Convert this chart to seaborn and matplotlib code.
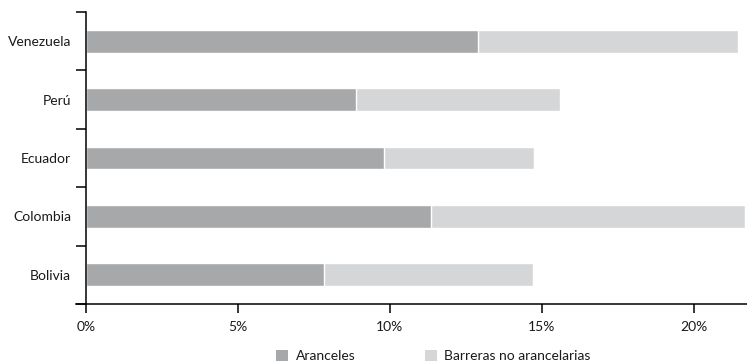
import numpy as np
import pandas as pd
import matplotlib
matplotlib.use("Agg")
import matplotlib.pyplot as plt
from matplotlib.patches import Patch
from matplotlib.ticker import FixedLocator, FuncFormatter
import seaborn as sns

# Equivalente arancelario por país (% del valor)
paises = ["Venezuela", "Perú", "Ecuador", "Colombia", "Bolivia"]
aranceles = [12.9, 8.9, 9.8, 11.35, 7.85]
barreras_no_arancelarias = [8.55, 6.7, 4.95, 10.35, 6.85]
xticks = [0, 5, 10, 15, 20]

c_aranceles = "#a7a8aa"
c_barreras = "#d5d6d8"

df = pd.DataFrame({
    "pais": paises,
    "aranceles": aranceles,
    "total": np.add(aranceles, barreras_no_arancelarias),
})

sns.set_style("white")
plt.rcParams["font.family"] = ["Lato", "DejaVu Sans"]

fig = plt.figure(figsize=(7.47, 3.64), dpi=100)
ax = fig.add_axes([76 / 747, 60 / 364, 671 / 747, 292 / 364])

# Barra total (clara) y, encima, la parte arancelaria (oscura)
sns.barplot(data=df, x="total", y="pais", order=paises, orient="h",
            color=c_barreras, saturation=1, width=0.39, ax=ax)
sns.barplot(data=df, x="aranceles", y="pais", order=paises, orient="h",
            color=c_aranceles, saturation=1, width=0.39, ax=ax)

ax.set_xlim(-0.32, 21.75)
ax.set_ylim(4.5, -0.5)
ax.set_xlabel("")
ax.set_ylabel("")

for s in ["top", "right"]:
    ax.spines[s].set_visible(False)
ax.spines["left"].set_position(("data", 0))
for s in ["left", "bottom"]:
    ax.spines[s].set_color("black")
    ax.spines[s].set_linewidth(1.1)

ax.xaxis.set_major_locator(FixedLocator(xticks))
ax.xaxis.set_major_formatter(FuncFormatter(lambda v, p: f"{v:.0f}%"))
ax.tick_params(axis="x", direction="out", length=6.5, width=1.1,
               color="black", labelsize=10, pad=6, bottom=True)

ax.set_yticks(range(len(paises)))
ax.set_yticklabels(paises)
ax.yaxis.set_minor_locator(FixedLocator(np.arange(-0.5, len(paises), 1.0)))
ax.tick_params(axis="y", which="major", length=0, labelsize=10, pad=10.5)
ax.tick_params(axis="y", which="minor", direction="out", length=7,
               width=1.1, color="black", left=True)
for lab in ax.get_xticklabels() + ax.get_yticklabels():
    lab.set_color("#1a1a1a")

handles = [Patch(facecolor=c_aranceles, edgecolor="none", label="Aranceles"),
           Patch(facecolor=c_barreras, edgecolor="none",
                 label="Barreras no arancelarias")]
leg = fig.legend(handles=handles, loc="center left",
                 bbox_to_anchor=(276 / 747, 1 - 356 / 364),
                 ncol=2, frameon=False, fontsize=10, borderpad=0,
                 borderaxespad=0, handlelength=0.86, handleheight=0.86,
                 handletextpad=0.55, columnspacing=5.0)
for t in leg.get_texts():
    t.set_color("#1a1a1a")

fig.savefig("out.png", dpi=100)
